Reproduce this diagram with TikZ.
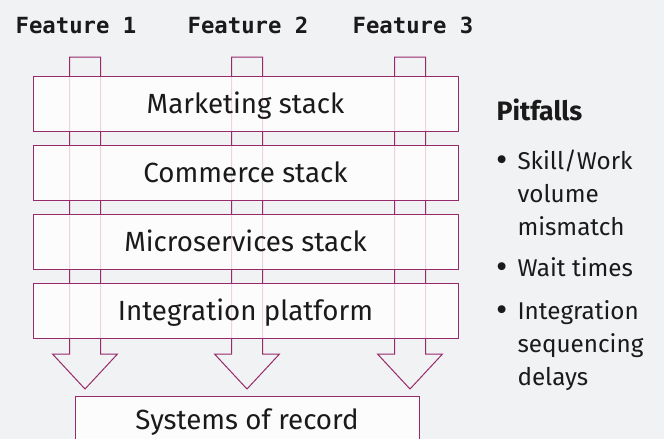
\documentclass[tikz,border=0pt]{standalone}
\usepackage{fontspec}
\setmainfont{Fira Sans}
\newfontfamily\featfont{DejaVu Sans Mono}
\usetikzlibrary{positioning}
\definecolor{stackline}{HTML}{962A6A}
\definecolor{pagegray}{HTML}{F1F2F4}
\definecolor{inkblack}{HTML}{1A1A1A}
\tikzset{every picture/.style={line width=0.75pt}}
\tikzset{
  layer/.style={draw=stackline, fill=white, fill opacity=0.8, text opacity=1, text=inkblack,
    minimum width=318.75pt, minimum height=41.25pt, inner sep=0pt,
    text height=14.3pt, text depth=0pt, font=\fontsize{20.8}{24}\selectfont},
  feature/.style={anchor=base, inner sep=0pt, text=inkblack, font=\featfont\bfseries\fontsize{16.7}{20}\selectfont},
  pitem/.style={anchor=base west, inner sep=0pt, align=left, text=inkblack, font=\fontsize{18.2}{24.75}\selectfont},
  pdot/.style={anchor=base, inner sep=0pt, text=inkblack, font=\fontsize{26}{26}\selectfont}
}

\begin{document}
\begin{tikzpicture}[x=0.75pt,y=0.75pt,yscale=-1,xscale=1]
%Shape: Background
\fill[pagegray] (0,0) rectangle (664,439);
\useasboundingbox (0,0) rectangle (664,439);

%Text: Feature labels
\node[feature] (feat1) at (76,33) {Feature 1};
\node[feature] (feat2) at (248,33) {Feature 2};
\node[feature] (feat3) at (413,33) {Feature 3};

%Shape: Arrows
\foreach \x/\n in {85/1,247/2,410/3}{
  \coordinate (arr\n) at (\x,57);
  \draw[stackline] (arr\n) ++(-15.5,0) -- ++(31,0) -- ++(0,297) -- ++(17,0) -- ++(-32.5,35) -- ++(-32.5,-35) -- ++(17,0) -- cycle;
}

%Shape: Stack layers
\node[layer] (mkt) at (245.5,104) {Marketing stack};
\node[layer] (com) at (245.5,172.5) {Commerce stack};
\node[layer] (micro) at (245.5,241.5) {Microservices stack};
\node[layer] (integ) at (245.5,310.5) {Integration platform};

%Shape: Systems of record
\node[layer, minimum width=258pt, minimum height=35pt] (sor) at (247,420.3) {Systems of record};

%Text: Pitfalls
\node[anchor=base west, inner sep=0pt, text=inkblack, font=\bfseries\fontsize{20}{24}\selectfont] (pitfalls) at (496,120) {Pitfalls};
\node[pitem] (item1) at (517,235) {Skill/Work\\volume\\mismatch};
\node[pitem] (item2) at (517,276.7) {Wait times};
\node[pitem] (item3) at (517,385) {Integration\\sequencing\\delays};
\node[pdot] (dot1) at (502,171) {\textbullet};
\node[pdot] (dot2) at (502,278.7) {\textbullet};
\node[pdot] (dot3) at (502,321) {\textbullet};

\end{tikzpicture}
\end{document}
